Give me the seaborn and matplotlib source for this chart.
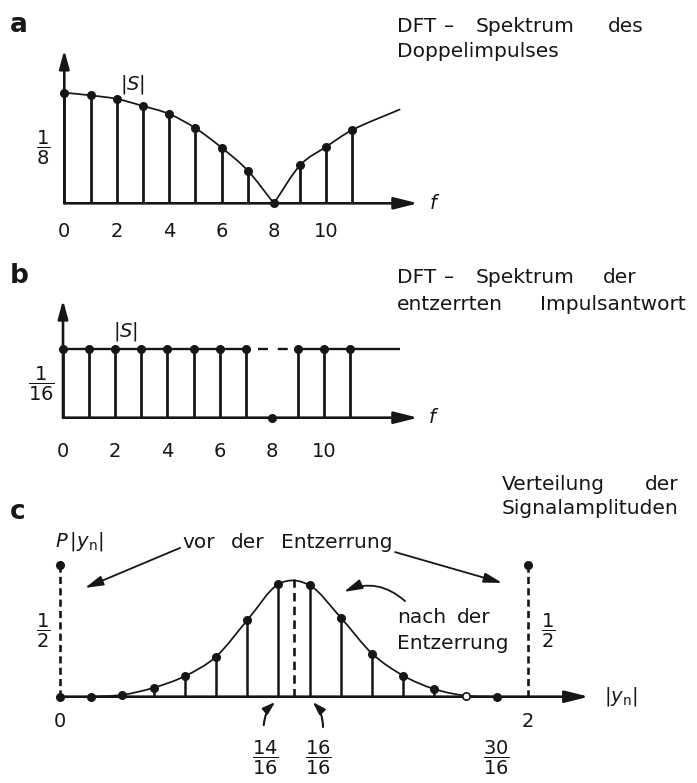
import numpy as np
import matplotlib
matplotlib.use("Agg")
import matplotlib.pyplot as plt
import matplotlib.transforms as mtransforms
from matplotlib.path import Path
from matplotlib.patches import PathPatch
import seaborn as sns

# ---------------- data ----------------
# a: DFT magnitude |S| of the double impulse at bins f = 0..11
freq_a = [0, 1, 2, 3, 4, 5, 6, 7, 8, 9, 10, 11]
spec_a = [0.125, 0.122, 0.118, 0.110, 0.101, 0.085, 0.063, 0.037, 0.0, 0.043, 0.064, 0.083]
env_a_tail_f = 12.8          # envelope keeps rising past the last bin
env_a_tail_val = 0.106
ticks_a = [0, 2, 4, 6, 8, 10]

# b: DFT magnitude of the equalised impulse response
freq_b = [0, 1, 2, 3, 4, 5, 6, 7, 8, 9, 10, 11]
spec_b = [1/16, 1/16, 1/16, 1/16, 1/16, 1/16, 1/16, 1/16, 0.0, 1/16, 1/16, 1/16]
level_b = 1/16
env_b_end_f = 12.9
ticks_b = [0, 2, 4, 6, 8, 10]

# c: distribution of the signal amplitudes |y_n| (amplitude levels in steps of 2/16)
amp_level = [0, 1, 2, 3, 4, 5, 6, 7, 8, 9, 10, 11, 12, 13, 14]
prob_after = [0.0, 0.0, 0.007, 0.034, 0.078, 0.152, 0.290, 0.427, 0.423, 0.300,
              0.164, 0.080, 0.029, 0.004, 0.0]
before_level = [0, 15]
prob_before = [0.5, 0.5]
mean_level = 7.5
mean_peak = 0.446
amp_ticks = [0, 15]
amp_tick_labels = ["0", "2"]
frac_levels = [7, 8, 14]
frac_num = ["14", "16", "30"]
frac_den = ["16", "16", "16"]

# ---------------- style ----------------
sns.set_theme(style="white")
plt.rcParams["font.family"] = ["DejaVu Sans"]
plt.rcParams["mathtext.fontset"] = "dejavusans"
INK = "#161616"
FS = 14
TFS = 14.5          # running text
W, H = 697, 783

fig = plt.figure(figsize=(W / 100, H / 100), dpi=100, facecolor="white")
TOP = mtransforms.Affine2D().scale(1 / W, -1 / H).translate(0, 1) + fig.transFigure


def panel(x0px, xunit, y0px, yunit):
    """Full-figure transparent axes whose data origin sits at pixel (x0px, y0px)."""
    ax = fig.add_axes([0, 0, 1, 1])
    ax.set_xlim(-x0px / xunit, (W - x0px) / xunit)
    ax.set_ylim(-(H - y0px) / yunit, y0px / yunit)
    ax.axis("off")
    ax.patch.set_alpha(0)
    return ax


def smooth(ax, xs, ys, lw=1.25):
    xs = np.asarray(xs, float)
    ys = np.asarray(ys, float)
    m = np.empty(len(xs))
    m[0] = (ys[1] - ys[0]) / (xs[1] - xs[0])
    m[-1] = (ys[-1] - ys[-2]) / (xs[-1] - xs[-2])
    m[1:-1] = (ys[2:] - ys[:-2]) / (xs[2:] - xs[:-2])
    verts = [(xs[0], ys[0])]
    codes = [Path.MOVETO]
    for i in range(len(xs) - 1):
        h = xs[i + 1] - xs[i]
        verts += [(xs[i] + h / 3, ys[i] + m[i] * h / 3),
                  (xs[i + 1] - h / 3, ys[i + 1] - m[i + 1] * h / 3),
                  (xs[i + 1], ys[i + 1])]
        codes += [Path.CURVE4] * 3
    ax.add_patch(PathPatch(Path(verts, codes), fill=False, lw=lw, ec=INK,
                           capstyle="round", zorder=3))


def arrow(ax, start, tip, hl=1.44, hw=0.36, lw=1.9, coords="data", rad=0.0):
    ax.annotate("", xy=tip, xytext=start, xycoords=coords, textcoords=coords,
                arrowprops=dict(arrowstyle=f"-|>,head_length={hl},head_width={hw}",
                                mutation_scale=10, lw=lw, color=INK,
                                shrinkA=0, shrinkB=0,
                                connectionstyle=f"arc3,rad={rad}"))


def dots(ax, xs, ys, s=28, face=INK):
    sns.scatterplot(x=xs, y=ys, ax=ax, s=s, color=face, edgecolor=INK,
                    linewidth=1.2, zorder=5, legend=False, clip_on=False)


def words(items, y, size=TFS):
    """items: (x, text, align) placed on a common baseline y (pixels from top)."""
    for x, w, ha in items:
        fig.text(x, y, w, transform=TOP, ha=ha, va="baseline",
                 fontsize=size, color=INK)


def frac(ax, x, y, num, den, size=FS, coords="data"):
    ax.annotate(r"$\dfrac{%s}{%s}$" % (num, den), xy=(x, y), xycoords=coords,
                ha="center", va="center", fontsize=size, color=INK)


# panel letters
for letter, y in [("a", 32), ("b", 283), ("c", 519)]:
    fig.text(10, y, letter, transform=TOP, ha="left", va="baseline",
             fontsize=19, fontweight="bold", color=INK)

# ================= panel a =================
axa = panel(64.3, 26.2, 203.3, 110.6 / 0.125)
axa.vlines(freq_a, 0, spec_a, color=INK, lw=2.0, zorder=2)
smooth(axa, freq_a[:9], spec_a[:9])
smooth(axa, freq_a[8:] + [env_a_tail_f], spec_a[8:] + [env_a_tail_val])
dots(axa, freq_a, spec_a)
arrow(axa, (0, 0), (13.5, 0))
arrow(axa, (0, 0), (0, 0.1733), hl=1.1, hw=0.3)
for t in ticks_a:
    axa.text(t, -0.038, str(t), ha="center", va="baseline", fontsize=FS, color=INK)
axa.text(14.15, 0, "$f$", ha="center", va="center", fontsize=FS, color=INK)
axa.text(2.62, 0.1283, "$|S|$", ha="center", va="baseline", fontsize=FS, color=INK)
frac(axa, -0.81, spec_a[0] / 2, "1", "8")
words([(397, "DFT", "left"), (449, "–", "center"), (525.5, "Spektrum", "center"),
       (625.5, "des", "center")], 31.7)
words([(397, "Doppelimpulses", "left")], 56.7)

# ================= panel b =================
axb = panel(63, 26.1, 417.7, 68.4 / 0.0625)
axb.vlines(freq_b, 0, spec_b, color=INK, lw=2.0, zorder=2)
axb.hlines(level_b, 0, 7, color=INK, lw=1.7, zorder=2)
axb.hlines(level_b, 9, env_b_end_f, color=INK, lw=1.7, zorder=2)
axb.plot([7.47, 8.8], [level_b, level_b], color=INK, lw=1.7, ls=(0, (4.2, 4.2)), zorder=2)
dots(axb, freq_b, spec_b)
arrow(axb, (0, 0), (13.6, 0))
arrow(axb, (0, 0), (0, 0.1075), hl=1.1, hw=0.3)
for t in ticks_b:
    axb.text(t, -0.0355, str(t), ha="center", va="baseline", fontsize=FS, color=INK)
axb.text(14.2, 0, "$f$", ha="center", va="center", fontsize=FS, color=INK)
axb.text(2.4, 0.0738, "$|S|$", ha="center", va="baseline", fontsize=FS, color=INK)
frac(axb, -0.84, level_b / 2, "1", "16")
words([(397, "DFT", "left"), (449, "–", "center"), (525.5, "Spektrum", "center"),
       (620, "der", "center")], 283.3)
words([(397, "entzerrten", "left"), (613, "Impulsantwort", "center")], 310)

# ================= panel c =================
axc = panel(60, 31.2, 696.7, 131.7 / 0.5)
axc.vlines(amp_level, 0, prob_after, color=INK, lw=1.8, zorder=2)
smooth(axc, amp_level[1:], prob_after[1:])
dots(axc, amp_level[:13] + amp_level[14:], prob_after[:13] + prob_after[14:])
dots(axc, amp_level[13:14], prob_after[13:14], face="white")
axc.vlines(before_level, 0, prob_before, color=INK, lw=1.9,
           linestyles=[(0, (2.7, 1.6))], zorder=2)
dots(axc, before_level, prob_before)
axc.vlines([mean_level], 0, [mean_peak], color=INK, lw=1.9,
           linestyles=[(0, (3.2, 2.0))], zorder=2)
arrow(axc, (0, 0), (16.95, 0))
for t, lab in zip(amp_ticks, amp_tick_labels):
    axc.text(t, -0.115, lab, ha="center", va="baseline", fontsize=FS, color=INK)
axc.text(17.45, 0, r"$|y_{\rm n}|$", ha="left", va="center", fontsize=FS, color=INK)
fig.text(55, 546.7, r"$P\,|y_{\rm n}|$", transform=TOP, ha="left", va="baseline",
         fontsize=FS, color=INK)
frac(axc, -0.545, prob_before[0] / 2, "1", "2")
frac(axc, 15.64, prob_before[1] / 2, "1", "2")

# amplitude labels under the axis
frac_offset = [-0.43, 0.27, 0.0]
for lv, n, d, off in zip(frac_levels, frac_num, frac_den, frac_offset):
    frac(axc, lv + off, -0.233, n, d)
arrow(axc, (6.53, -0.108), (6.9, -0.02), hl=0.75, hw=0.24, lw=1.5, rad=-0.2)
arrow(axc, (8.43, -0.115), (8.1, -0.02), hl=0.75, hw=0.24, lw=1.5, rad=0.2)

# annotations
words([(198.5, "vor", "center"), (247.5, "der", "center"),
       (336.5, "Entzerrung", "center")], 548.3)
arrow(axc, (3.85, 0.565), (0.80, 0.413), hl=1.1, hw=0.3, lw=1.3)
arrow(axc, (10.74, 0.549), (14.17, 0.432), hl=1.1, hw=0.3, lw=1.3)
words([(397, "nach", "left"), (474, "der", "center")], 623.3)
words([(397, "Entzerrung", "left")], 649.3)
arrow(axc, (11.06, 0.363), (9.1, 0.398), hl=1.1, hw=0.3, lw=1.3, rad=0.32)
words([(501.7, "Verteilung", "left"), (662, "der", "center")], 490)
words([(501.7, "Signalamplituden", "left")], 514)

fig.savefig("out.png", dpi=100, facecolor="white")
